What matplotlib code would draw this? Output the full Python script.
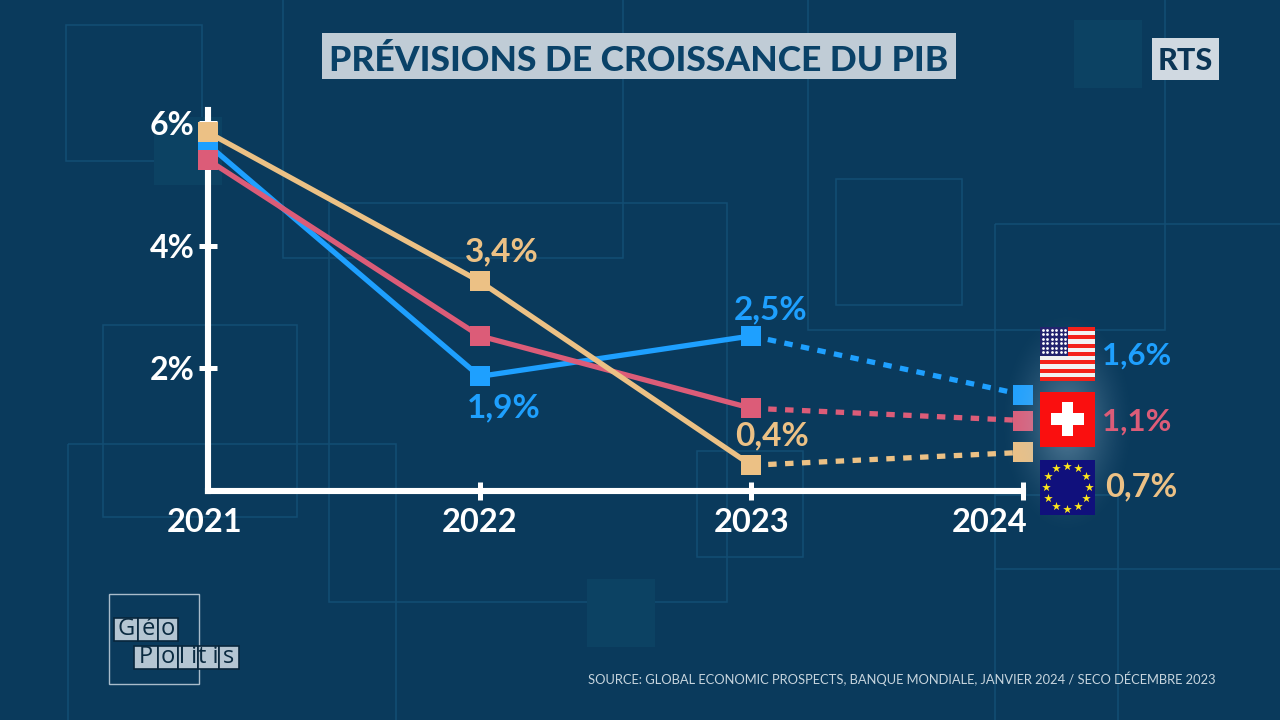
"""GDP growth forecasts chart, RTS Géopolitis style."""

import numpy as np
import matplotlib
matplotlib.use("Agg")
import matplotlib.pyplot as plt
from matplotlib.patches import Rectangle
from matplotlib.transforms import ScaledTranslation

years = [2021, 2022, 2023, 2024]
usa = [5.65, 1.87, 2.53, 1.57]
suisse = [5.4, 2.53, 1.35, 1.15]
europe = [5.85, 3.42, 0.42, 0.63]
y_ticks = [2, 4, 6]
y_labels = ["2%", "4%", "6%"]

BG = "#0a3a5c"
BLUE = "#1ea0ff"
RED = "#dc5c78"
SAND = "#ecc185"
PANEL = "#c0ccd6"
INK = "#0a4268"
FONT = "Lato"

plt.rcParams["font.family"] = [FONT, "DejaVu Sans"]

fig = plt.figure(figsize=(12.8, 7.2), dpi=100, facecolor=BG)

# backdrop and decoration are laid out in pixels
deco = fig.add_axes([0, 0, 1, 1], zorder=0)
deco.set_xlim(0, 1280)
deco.set_ylim(720, 0)
deco.axis("off")

outlines = [(66, 25, 136, 136), (283, -5, 340, 263), (329, 203, 398, 399),
            (103, 325, 194, 192), (68, 444, 328, 290), (808, -5, 357, 335),
            (836, 179, 126, 126), (995, 224, 290, 345), (697, 451, 106, 106),
            (995, 495, 123, 240)]
for x, y, w, h in outlines:
    deco.add_patch(Rectangle((x, y), w, h, fill=False, ec="#134e74", lw=1.1))
for x, y in [(154, 117), (1074, 20), (587, 579)]:
    deco.add_patch(Rectangle((x, y), 68, 68, fc="#0c4263", ec="none"))

# title and channel tag
deco.add_patch(Rectangle((322, 33), 634, 46, fc=PANEL, ec="none"))
deco.text(639, 61, "PRÉVISIONS DE CROISSANCE DU PIB", color=INK, fontsize=25.5,
          fontweight="black", ha="center", va="center")
deco.add_patch(Rectangle((1152, 38), 67, 42, fc="#d0d9e1", ec="none"))
deco.text(1185, 61, "RTS", color="#0b3555", fontsize=22, fontweight="black", ha="center", va="center")

# Géo Politis logo
deco.add_patch(Rectangle((108.5, 593.5), 90, 90, fill=False, ec="#a9bccb", lw=1))
logo_cells = [(114, 618, 24, "G"), (138, 618, 20, "é"), (158, 618, 20, "o"),
              (134, 646, 24, "P"), (158, 646, 20, "o"), (178, 646, 20, "l i"),
              (198, 646, 21, "t i"), (219, 646, 20, "s")]
for x, y, w, ch in logo_cells:
    deco.add_patch(Rectangle((x, y), w, 23, fc="#b4c5d2", ec="#08263c", lw=1.2))
    deco.text(x + w / 2, y + 11, ch, color="#0a2a40", fontsize=17, ha="center",
              va="center", family="Open Sans")

deco.text(1216, 679, "SOURCE: GLOBAL ECONOMIC PROSPECTS, BANQUE MONDIALE, JANVIER 2024 / SECO DÉCEMBRE 2023",
          color="#c7d5de", fontsize=9.32, ha="right", va="center")

# chart, placed so the axes line up with the plot area
left, right, bottom, top = 208, 1023, 491, 110
ax = fig.add_axes([left / 1280, 1 - bottom / 720, (right - left) / 1280, (bottom - top) / 720], zorder=2)
ax.patch.set_alpha(0)
ax.set_xlim(2021, 2024)
ax.set_ylim(0, (bottom - top) / 61.3)
for side in ["top", "right"]:
    ax.spines[side].set_visible(False)
for side in ["left", "bottom"]:
    ax.spines[side].set_color("white")
    ax.spines[side].set_linewidth(4.4)
ax.set_xticks(years)
ax.set_xticklabels([str(y) for y in years], color="white", fontsize=23.5, fontweight="bold")
ax.set_yticks(y_ticks)
ax.set_yticklabels(y_labels, color="white", fontsize=23, fontweight="bold")
ax.tick_params(axis="x", direction="inout", length=13, width=3.6, color="white", pad=6)
ax.tick_params(axis="y", direction="inout", length=13, width=3.6, color="white", pad=3)
ax.xaxis.get_major_ticks()[0].tick1line.set_visible(False)
# the first and last year labels are nudged towards the plot in the original
for label, shift in zip(ax.get_xticklabels(), [-3, 0, 0, -33]):
    label.set_transform(label.get_transform() + ScaledTranslation(shift / 100, 0, fig.dpi_scale_trans))

for values, color in [(usa, BLUE), (suisse, RED), (europe, SAND)]:
    ax.plot(years[:3], values[:3], color=color, lw=3.8, clip_on=False, zorder=3)
    ax.plot(years[2:], values[2:], color=color, lw=3.8, ls=(0, (1.6, 1.6)), clip_on=False, zorder=3)
    ax.plot(years, values, ls="none", marker="s", ms=14, color=color, mew=0, clip_on=False, zorder=4)

label_font = dict(fontsize=24, fontweight="bold", ha="center", va="center")
ax.annotate("1,9%", (2022, usa[1]), xytext=(17, -22.5), textcoords="offset points", color=BLUE, **label_font)
ax.annotate("2,5%", (2023, usa[2]), xytext=(14, 19), textcoords="offset points", color=BLUE, **label_font)
ax.annotate("3,4%", (2022, europe[1]), xytext=(16, 21.5), textcoords="offset points", color=SAND, **label_font)
ax.annotate("0,4%", (2023, europe[2]), xytext=(15, 21), textcoords="offset points", color=SAND, **label_font)

# flags sit above everything, again in pixels
over = fig.add_axes([0, 0, 1, 1], zorder=3)
over.patch.set_alpha(0)
over.axis("off")

gx, gy = np.meshgrid(np.linspace(-1, 1, 200), np.linspace(-1, 1, 200))
glow = np.zeros((200, 200, 4))
glow[..., :3] = matplotlib.colors.to_rgb("#9fc0d6")
glow[..., 3] = 0.55 * np.clip(1 - np.hypot(gx, gy), 0, 1) ** 1.5
over.imshow(glow, extent=(1000, 1135, 535, 310), aspect="auto", zorder=1)
over.set_xlim(0, 1280)
over.set_ylim(720, 0)

# USA
for i in range(13):
    over.add_patch(Rectangle((1040, 327 + i * 54 / 13), 55, 54 / 13,
                             fc="#f4211a" if i % 2 == 0 else "#f2f2f2", ec="none", zorder=2))
over.add_patch(Rectangle((1040, 327), 28, 29, fc="#23236e", ec="none", zorder=3))
star_x, star_y = np.meshgrid(np.arange(1043, 1067, 4.4), np.arange(330, 355, 4.4))
over.scatter(star_x.ravel(), star_y.ravel(), s=4, color="white", linewidths=0, zorder=4)
# Switzerland
over.add_patch(Rectangle((1040, 392), 55, 55, fc="#fa0f0f", ec="none", zorder=2))
over.add_patch(Rectangle((1051, 413), 33, 12, fc="white", ec="none", zorder=3))
over.add_patch(Rectangle((1062, 402), 11, 34, fc="white", ec="none", zorder=3))
# EU
over.add_patch(Rectangle((1040, 460), 55, 55, fc="#10107c", ec="none", zorder=2))
angles = np.deg2rad(np.arange(0, 360, 30))
over.scatter(1067 + 21.5 * np.cos(angles), 487 + 21.5 * np.sin(angles), s=42, marker="*",
             color="#ffe81a", linewidths=0, zorder=3)

for text, color, x, y, size in [("1,6%", BLUE, 1102, 356, 22.5), ("1,1%", RED, 1102, 422, 22.5),
                                ("0,7%", SAND, 1105, 487, 23.5)]:
    over.text(x, y, text, color=color, fontsize=size, fontweight="bold", ha="left", va="center", zorder=5)

fig.savefig("out.png", dpi=100, facecolor=BG)
